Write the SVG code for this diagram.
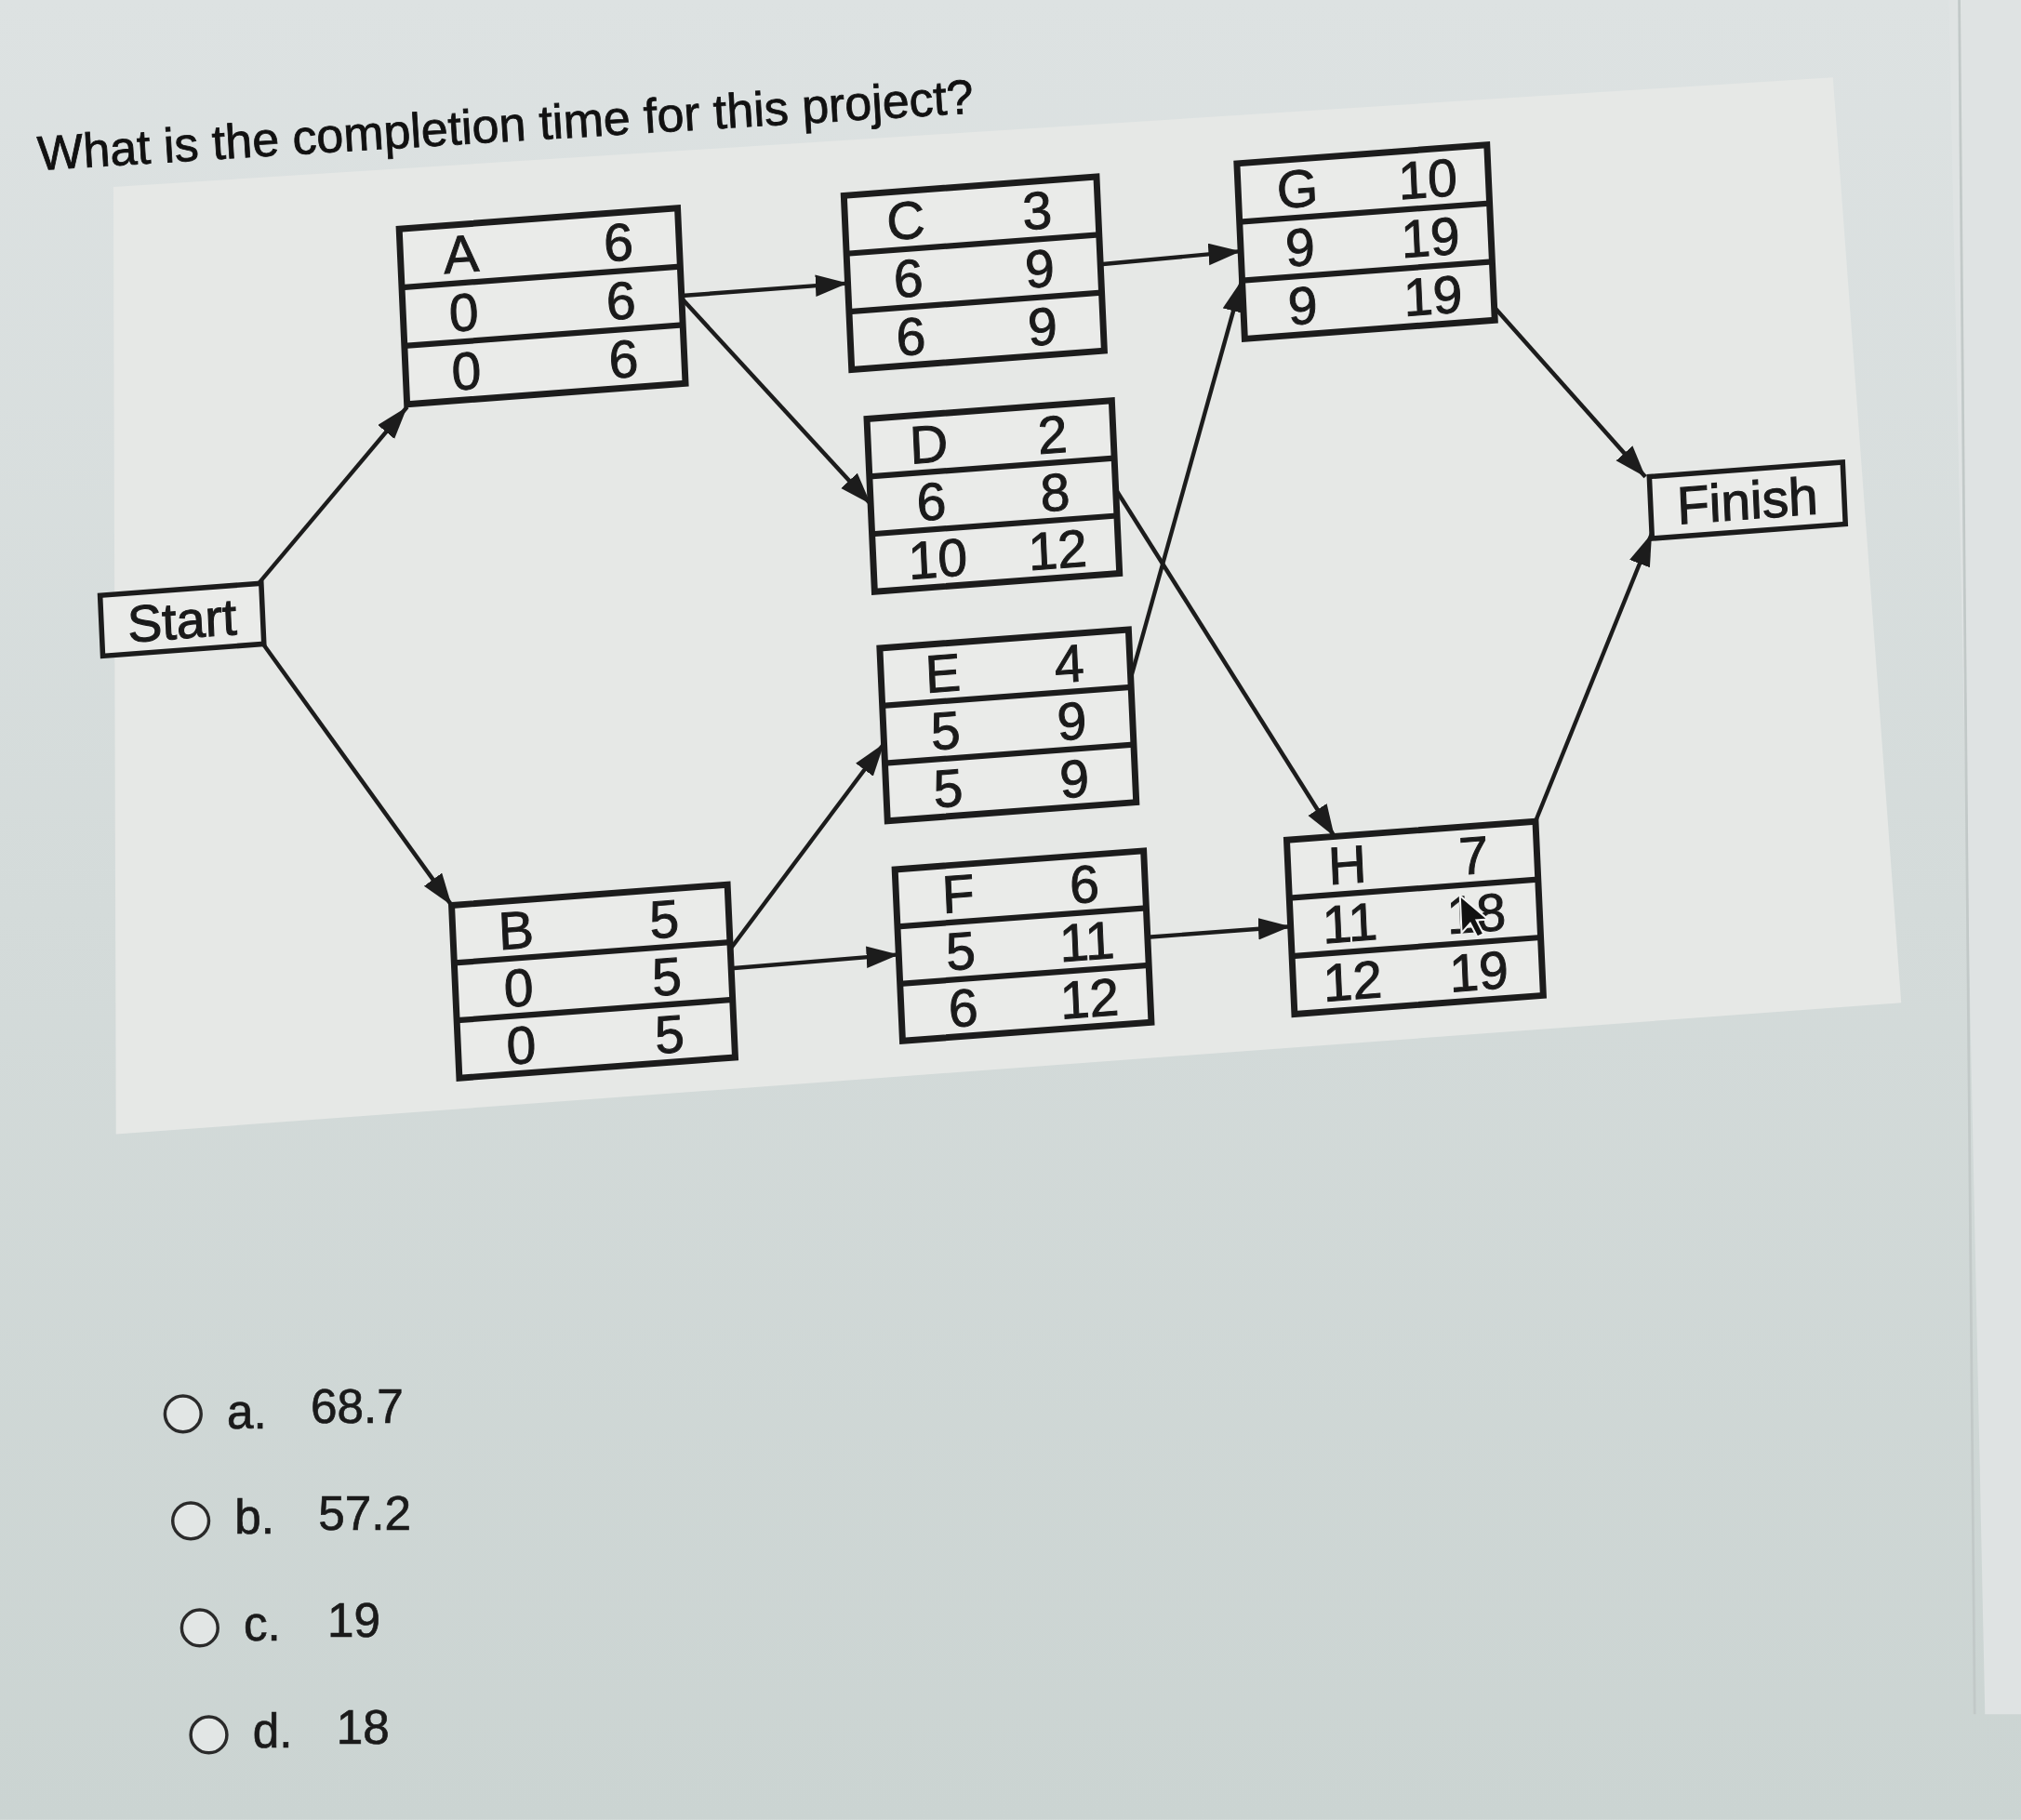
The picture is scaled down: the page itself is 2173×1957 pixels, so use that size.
<svg xmlns="http://www.w3.org/2000/svg" width="2173" height="1957" viewBox="0 0 2173 1957">
<defs>
<linearGradient id="bg" x1="0" y1="0" x2="0" y2="1">
<stop offset="0" stop-color="#dde2e2"/>
<stop offset="1" stop-color="#cbd4d2"/>
</linearGradient>
<marker id="ah" markerUnits="userSpaceOnUse" markerWidth="28" markerHeight="20" refX="25" refY="8.5" orient="auto">
<path d="M0,0 L25,8.5 L0,17 z" fill="#1c1c1c"/>
</marker>
<style>
.box{fill:#eaebe9;stroke:#1c1c1c;stroke-width:5}
.div{stroke:#1c1c1c;stroke-width:4.5}
.t{font-family:"Liberation Sans",Arial,sans-serif;font-size:41px;fill:#1a1a1a;stroke:#1a1a1a;stroke-width:0.7;text-anchor:middle}
.lbl{font-family:"Liberation Sans",Arial,sans-serif;font-size:40px;fill:#1a1a1a;stroke:#1a1a1a;stroke-width:0.8;text-anchor:middle}
.opt{font-family:"Liberation Sans",Arial,sans-serif;font-size:37px;fill:#1a1a1a;stroke:#1a1a1a;stroke-width:0.5}
.conn{stroke:#1c1c1c;stroke-width:3.2;fill:none;marker-end:url(#ah)}
.rad{fill:#e2e6e5;stroke:#2a2a2a;stroke-width:2.5}
</style>
</defs>
<g transform="scale(1.3859)">
<rect x="0" y="0" width="1568" height="1412" fill="url(#bg)"/>
<polygon points="1512,0 1568,0 1568,1330 1540,1330" fill="#dfe3e3"/>
<line x1="1520" y1="0" x2="1532" y2="1330" stroke="#c2c9c8" stroke-width="2"/>
<polygon points="88,145 1422,60 1475,778 90,880" fill="#e6e8e6"/>
<text x="30" y="132" transform="rotate(-3.5 30 132)" style="font-family:'Liberation Sans',Arial,sans-serif;font-size:37.5px;fill:#111;stroke:#111;stroke-width:0.6">What is the completion time for this project?</text>

<g transform="matrix(1,-0.075,0.045,1,-31.8,58.8)">
<g id="connectors">
<path class="conn" d="M214,410 L335,282"/>
<path class="conn" d="M216,458 L352,670"/>
<path class="conn" d="M551,212 L680,212"/>
<path class="conn" d="M551,214 L690,384"/>
<path class="conn" d="M876,212 L985,210"/>
<path class="conn" d="M879,385 L1037,668"/>
<path class="conn" d="M885,534 L985,232"/>
<path class="conn" d="M566,720 L692,570"/>
<path class="conn" d="M566,735 L696,734"/>
<path class="conn" d="M889,735 L1000,735"/>
<path class="conn" d="M1179,268 L1290,408"/>
<path class="conn" d="M1193,668 L1293,452"/>
</g>

<g id="start">
<rect class="box" x="91" y="410" width="125" height="47" style="stroke-width:4"/>
<text class="lbl" x="153.5" y="448">Start</text>
</g>
<g id="finish">
<rect class="box" x="1293" y="408" width="150" height="48" style="stroke-width:4"/>
<text class="lbl" x="1368" y="446.5" style="font-size:41px">Finish</text>
</g>

<g id="nodeA">
<rect class="box" x="335" y="144" width="216" height="136"/>
<line class="div" x1="335" y1="189.3" x2="551" y2="189.3"/>
<line class="div" x1="335" y1="234.7" x2="551" y2="234.7"/>
<text class="t" x="382" y="181.2">A</text><text class="t" x="504" y="181.2">6</text>
<text class="t" x="382" y="226.5">0</text><text class="t" x="504" y="226.5">6</text>
<text class="t" x="382" y="271.8">0</text><text class="t" x="504" y="271.8">6</text>
</g>
<g id="nodeB">
<rect class="box" x="352" y="670" width="214" height="134"/>
<line class="div" x1="352" y1="714.7" x2="566" y2="714.7"/>
<line class="div" x1="352" y1="759.3" x2="566" y2="759.3"/>
<text class="t" x="401" y="707.2">B</text><text class="t" x="516" y="707.2">5</text>
<text class="t" x="401" y="751.8">0</text><text class="t" x="516" y="751.8">5</text>
<text class="t" x="401" y="796.5">0</text><text class="t" x="516" y="796.5">5</text>
</g>
<g id="nodeC">
<rect class="box" x="680" y="144" width="196" height="135"/>
<line class="div" x1="680" y1="189" x2="876" y2="189"/>
<line class="div" x1="680" y1="234" x2="876" y2="234"/>
<text class="t" x="727" y="181">C</text><text class="t" x="829" y="181">3</text>
<text class="t" x="727" y="226">6</text><text class="t" x="829" y="226">9</text>
<text class="t" x="727" y="271">6</text><text class="t" x="829" y="271">9</text>
</g>
<g id="nodeD">
<rect class="box" x="690" y="318" width="190" height="134"/>
<line class="div" x1="690" y1="362.7" x2="880" y2="362.7"/>
<line class="div" x1="690" y1="407.3" x2="880" y2="407.3"/>
<text class="t" x="737" y="355.2">D</text><text class="t" x="833" y="355.2">2</text>
<text class="t" x="737" y="399.8">6</text><text class="t" x="833" y="399.8">8</text>
<text class="t" x="740" y="444.5">10</text><text class="t" x="833" y="444.5">12</text>
</g>
<g id="nodeE">
<rect class="box" x="692" y="496" width="193" height="134"/>
<line class="div" x1="692" y1="540.7" x2="885" y2="540.7"/>
<line class="div" x1="692" y1="585.3" x2="885" y2="585.3"/>
<text class="t" x="740" y="533.2">E</text><text class="t" x="838" y="533.2">4</text>
<text class="t" x="740" y="577.8">5</text><text class="t" x="838" y="577.8">9</text>
<text class="t" x="740" y="622.5">5</text><text class="t" x="838" y="622.5">9</text>
</g>
<g id="nodeF">
<rect class="box" x="696" y="668" width="193" height="133"/>
<line class="div" x1="696" y1="712.3" x2="889" y2="712.3"/>
<line class="div" x1="696" y1="756.7" x2="889" y2="756.7"/>
<text class="t" x="744" y="704.7">F</text><text class="t" x="842" y="704.7">6</text>
<text class="t" x="744" y="749">5</text><text class="t" x="842" y="749">11</text>
<text class="t" x="744" y="793.3">6</text><text class="t" x="842" y="793.3">12</text>
</g>
<g id="nodeG">
<rect class="box" x="985" y="142" width="194" height="136"/>
<line class="div" x1="985" y1="187.3" x2="1179" y2="187.3"/>
<line class="div" x1="985" y1="232.7" x2="1179" y2="232.7"/>
<text class="t" x="1031" y="179.2">G</text><text class="t" x="1132" y="179.2">10</text>
<text class="t" x="1031" y="224.5">9</text><text class="t" x="1132" y="224.5">19</text>
<text class="t" x="1031" y="269.8">9</text><text class="t" x="1132" y="269.8">19</text>
</g>
<g id="nodeH">
<rect class="box" x="1000" y="668" width="193" height="135"/>
<line class="div" x1="1000" y1="713" x2="1193" y2="713"/>
<line class="div" x1="1000" y1="758" x2="1193" y2="758"/>
<text class="t" x="1046" y="705">H</text><text class="t" x="1144" y="705">7</text>
<text class="t" x="1046" y="750">11</text><text class="t" x="1144" y="750">18</text>
<text class="t" x="1046" y="795">12</text><text class="t" x="1144" y="795">19</text>
<path d="M1132,721 L1132,750 L1139,743 L1144,754 L1149,752 L1144,741 L1153,741 z" fill="#111" stroke="#f2f2f2" stroke-width="1.5"/>
</g>
</g>

<g id="options">
<circle class="rad" cx="142" cy="1097" r="14"/>
<text class="opt" x="176" y="1108">a.</text><text class="opt" x="241" y="1104">68.7</text>
<circle class="rad" cx="148" cy="1180" r="14"/>
<text class="opt" x="182" y="1190">b.</text><text class="opt" x="247" y="1187">57.2</text>
<circle class="rad" cx="155" cy="1263" r="14"/>
<text class="opt" x="189" y="1273">c.</text><text class="opt" x="254" y="1270">19</text>
<circle class="rad" cx="162" cy="1346" r="14"/>
<text class="opt" x="196" y="1356">d.</text><text class="opt" x="261" y="1353">18</text>
</g>
</g>
</svg>
